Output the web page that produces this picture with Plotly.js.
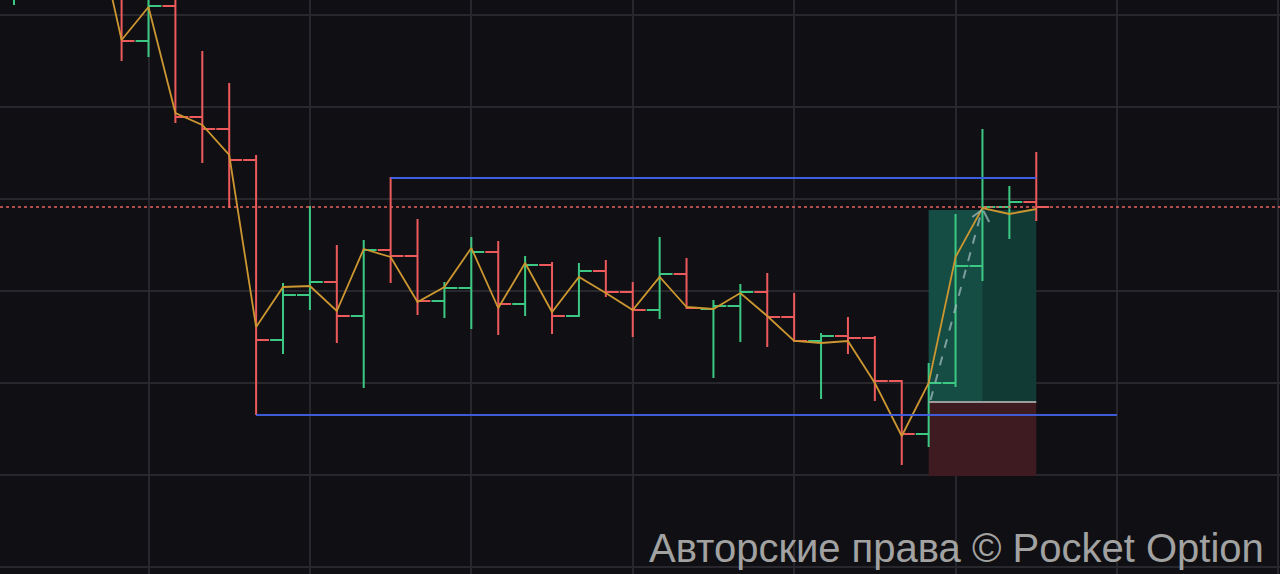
<!DOCTYPE html>
<html>
<head>
<meta charset="utf-8">
<script src="https://cdn.plot.ly/plotly-3.0.1.min.js"></script>
<style>
  html, body { margin: 0; padding: 0; background: #101014; }
  #chart { width: 1280px; height: 574px; }
</style>
</head>
<body>
<div id="chart"></div>
<script>
// Bar index (time slot)
const bars = [0,1,2,3,4,5,6,7,8,9,10,11,12,13,14,15,16,17,18,19,20,21,22,23,24,25,26,27,28,29,30,31,32,33,34,35,36,37,38];

const openPrices = [1.08515,1.08540,1.08570,1.08550,1.08520,1.08459,1.08494,1.08383,1.08371,1.08340,
  1.08160,1.08205,1.08218,1.08184,1.08250,1.08244,1.08199,1.08212,1.08248,1.08196,
  1.08235,1.08184,1.08229,1.08208,1.08190,1.08226,1.08191,1.08194,1.08208,1.08183,
  1.08159,1.08164,1.08162,1.08119,1.08066,1.08117,1.08234,1.08293,1.08298];

const highPrices = [1.08560,1.08590,1.08600,1.08595,1.08530,1.08505,1.08500,1.08449,1.08417,1.08345,
  1.08217,1.08294,1.08255,1.08260,1.08323,1.08281,1.08218,1.08263,1.08259,1.08244,
  1.08238,1.08237,1.08240,1.08218,1.08263,1.08242,1.08200,1.08216,1.08227,1.08207,
  1.08167,1.08183,1.08164,1.08120,1.08137,1.08286,1.08371,1.08314,1.08348];

const lowPrices = [1.08495,1.08520,1.08530,1.08520,1.08439,1.08443,1.08377,1.08337,1.08292,1.08085,
  1.08146,1.08190,1.08157,1.08112,1.08217,1.08185,1.08182,1.08171,1.08165,1.08184,
  1.08166,1.08183,1.08203,1.08163,1.08181,1.08191,1.08122,1.08158,1.08153,1.08158,
  1.08101,1.08146,1.08099,1.08035,1.08053,1.08113,1.08219,1.08261,1.08279];

const closePrices = [1.08540,1.08570,1.08560,1.08575,1.08459,1.08494,1.08383,1.08371,1.08340,1.08160,
  1.08205,1.08218,1.08184,1.08250,1.08244,1.08199,1.08212,1.08248,1.08196,1.08235,
  1.08184,1.08229,1.08208,1.08190,1.08226,1.08192,1.08194,1.08208,1.08183,1.08159,
  1.08164,1.08162,1.08119,1.08066,1.08117,1.08234,1.08293,1.08298,1.08293];

// Price line (gold)
const linePrices = [1.08535,1.08565,1.08562,1.08580,1.08460,1.08493,1.08387,1.08375,1.08345,1.08173,
  1.08213,1.08214,1.08189,1.08251,1.08243,1.08198,1.08213,1.08252,1.08192,1.08237,
  1.08188,1.08223,1.08207,1.08190,1.08223,1.08193,1.08191,1.08207,1.08184,1.08159,
  1.08157,1.08159,1.08117,1.08064,1.08117,1.08243,1.08292,1.08286,1.08291];

// Drawing levels
const currentPrice = 1.08293;
const rangeTop = 1.08322, rangeTopStart = 14, rangeTopEnd = 38;
const rangeBottom = 1.08085, rangeBottomStart = 9, rangeBottomEnd = 41;
const posStart = 34, posEnd = 38, posProgressEnd = 36;
const takeProfit = 1.08290, entry = 1.08098, stopLoss = 1.08024;
const arrowFrom = [34.07, 1.08100], arrowTo = [35.98, 1.08290];

const traces = [
  {
    type: 'ohlc',
    x: bars, open: openPrices, high: highPrices, low: lowPrices, close: closePrices,
    increasing: { line: { color: '#3cc883', width: 2 } },
    decreasing: { line: { color: '#ec5a5c', width: 2 } },
    tickwidth: 0.48,
    hoverinfo: 'skip',
    showlegend: false
  },
  {
    type: 'scatter', mode: 'lines',
    x: bars, y: linePrices,
    line: { color: '#cc9630', width: 1.8 },
    hoverinfo: 'skip',
    showlegend: false
  }
];

const shapes = [
  // position boxes
  { type: 'rect', layer: 'between', xref: 'x', yref: 'y', x0: posStart, x1: posEnd, y0: entry, y1: takeProfit,
    fillcolor: '#123a34', line: { width: 0 } },
  { type: 'rect', layer: 'between', xref: 'x', yref: 'y', x0: posStart, x1: posProgressEnd, y0: entry, y1: takeProfit,
    fillcolor: 'rgba(30,120,105,0.3)', line: { width: 0 } },
  { type: 'rect', layer: 'between', xref: 'x', yref: 'y', x0: posStart, x1: posEnd, y0: stopLoss, y1: entry,
    fillcolor: '#3e1b21', line: { width: 0 } },
  { type: 'line', layer: 'above', xref: 'x', yref: 'y', x0: posStart, x1: posEnd, y0: entry, y1: entry,
    line: { color: '#9c9c9c', width: 2 } },
  // current price dotted line
  { type: 'line', layer: 'above', xref: 'paper', yref: 'y', x0: 0, x1: 1, y0: currentPrice, y1: currentPrice,
    line: { color: '#e6625c', width: 1.5, dash: 'dot' } },
  // range lines
  { type: 'line', layer: 'above', xref: 'x', yref: 'y', x0: rangeTopStart, x1: rangeTopEnd, y0: rangeTop, y1: rangeTop,
    line: { color: '#3b5fe0', width: 2 } },
  { type: 'line', layer: 'above', xref: 'x', yref: 'y', x0: rangeBottomStart, x1: rangeBottomEnd, y0: rangeBottom, y1: rangeBottom,
    line: { color: 'rgba(66,100,235,0.9)', width: 2 } },
  // dashed arrow
  { type: 'line', layer: 'above', xref: 'x', yref: 'y', x0: arrowFrom[0], y0: arrowFrom[1], x1: arrowTo[0], y1: arrowTo[1],
    line: { color: 'rgba(160,185,190,0.75)', width: 2, dash: 'dash' } },
  { type: 'line', layer: 'above', xref: 'x', yref: 'y', x0: 35.62, y0: 1.08283, x1: arrowTo[0], y1: arrowTo[1],
    line: { color: 'rgba(160,185,190,0.75)', width: 2 } },
  { type: 'line', layer: 'above', xref: 'x', yref: 'y', x0: 36.04, y0: 1.08289, x1: 36.25, y1: 1.08278,
    line: { color: 'rgba(160,185,190,0.75)', width: 2 } }
];

const layout = {
  width: 1280, height: 574,
  margin: { l: 0, r: 0, t: 0, b: 0, pad: 0 },
  paper_bgcolor: '#101014',
  plot_bgcolor: '#101014',
  showlegend: false,
  xaxis: {
    range: [-0.52, 47.06],
    tick0: 5, dtick: 6, tickmode: 'linear',
    showgrid: true, gridcolor: '#27272d', gridwidth: 2,
    showticklabels: false, ticks: '', zeroline: false, showline: false,
    rangeslider: { visible: false },
    fixedrange: true
  },
  yaxis: {
    range: [1.07926, 1.08500],
    tick0: 1.08485, dtick: 0.00092, tickmode: 'linear',
    showgrid: true, gridcolor: '#27272d', gridwidth: 2,
    showticklabels: false, ticks: '', zeroline: false, showline: false,
    fixedrange: true
  },
  shapes: shapes,
  annotations: [
    {
      xref: 'paper', yref: 'paper', x: 0.989, y: 0.045,
      xanchor: 'right', yanchor: 'middle',
      text: 'Авторские права © Pocket Option',
      showarrow: false,
      font: { family: 'Liberation Sans, Arial, sans-serif', size: 40, color: '#a2a2a2' }
    }
  ]
};

Plotly.newPlot('chart', traces, layout, { staticPlot: true, displayModeBar: false });
</script>
</body>
</html>
